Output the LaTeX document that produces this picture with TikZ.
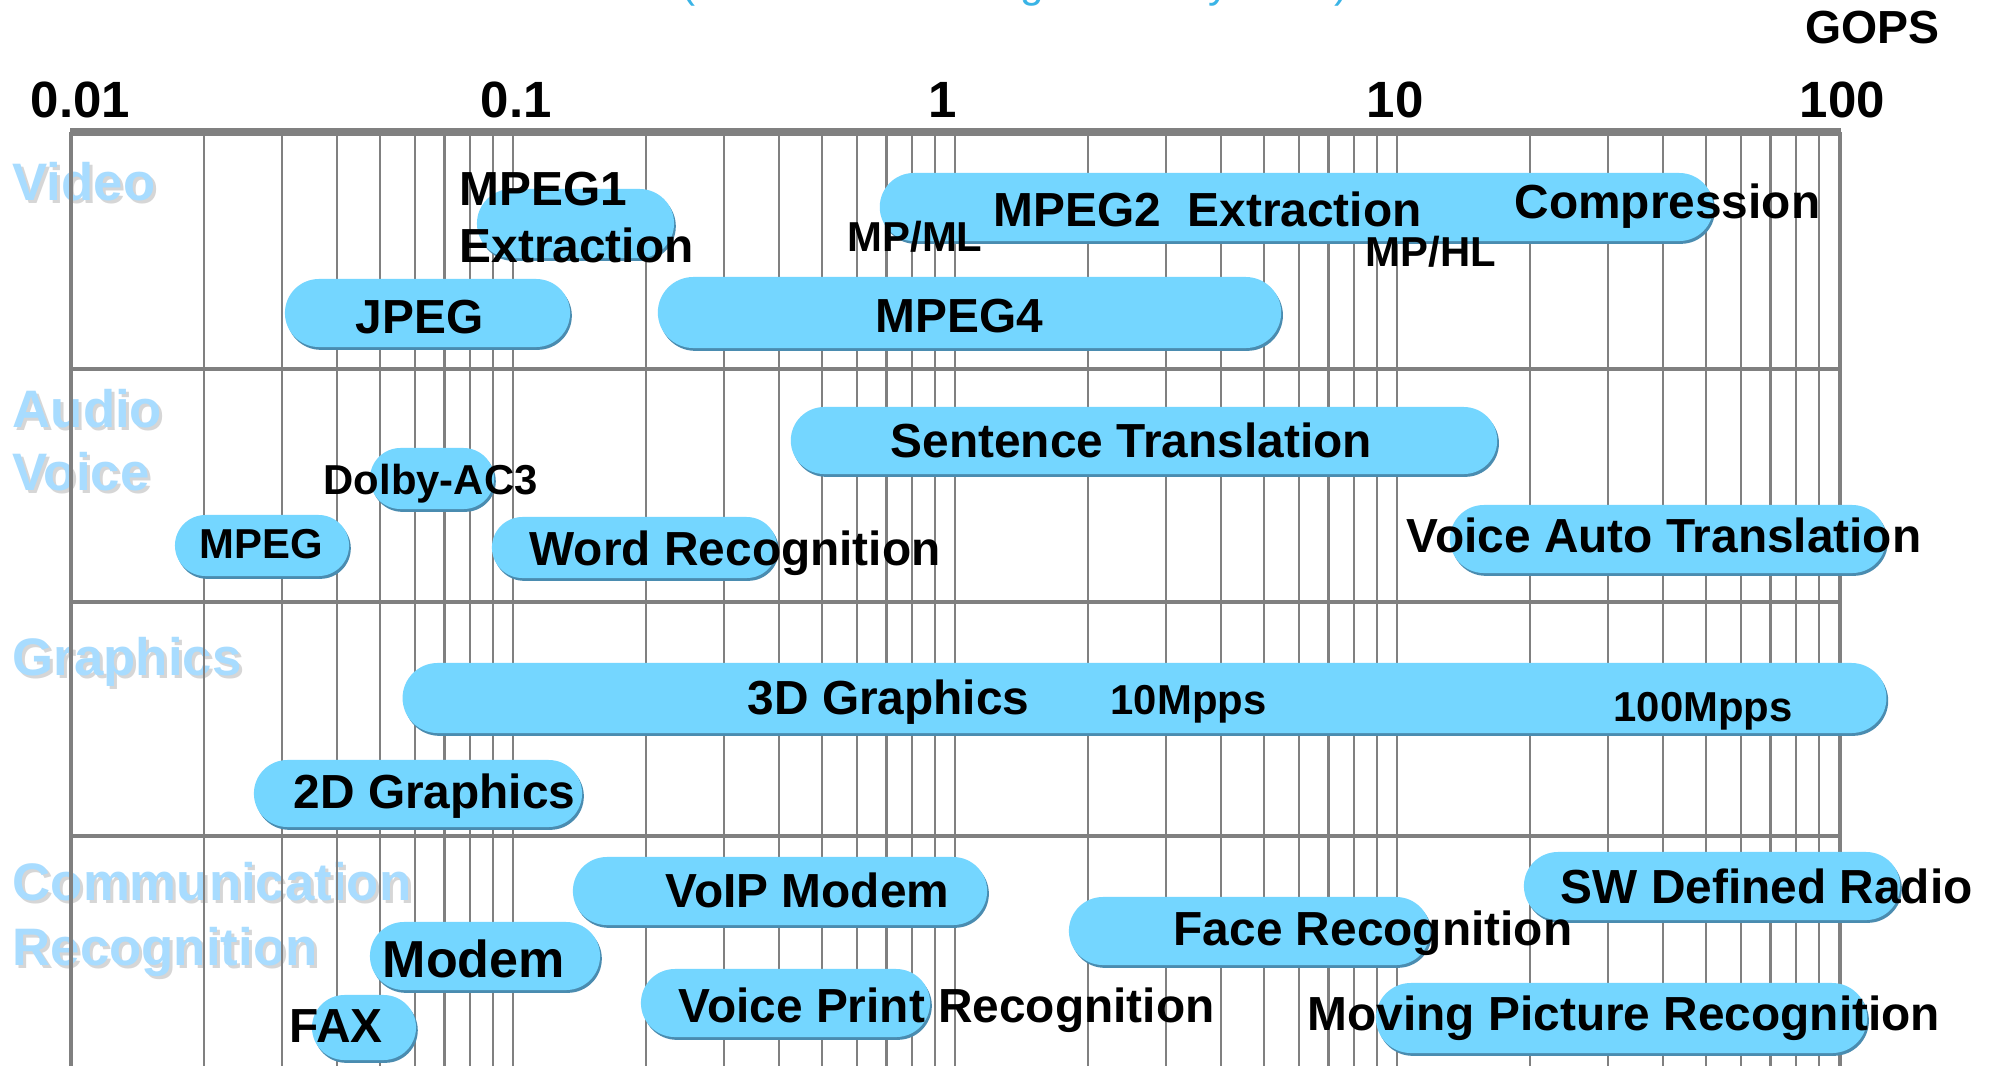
\documentclass[tikz,border=0pt]{standalone}
\usepackage{fontspec}
\setmainfont{Liberation Sans}
\usetikzlibrary{shapes.misc,shadows}
\definecolor{barfill}{HTML}{74D6FF}
\definecolor{barshade}{HTML}{4A8CB0}
\definecolor{rowblue}{HTML}{A8DCFF}
\definecolor{rowshade}{HTML}{D6D6D6}
\definecolor{gridgray}{HTML}{808080}
\definecolor{srcblue}{HTML}{3AB4E6}

\begin{document}
\begin{tikzpicture}[x=0.01cm, y=-0.01cm,
    gridline/.style={draw=gridgray, line width=0.6pt},
    band/.style={draw=gridgray, line width=1.15pt},
    appbar/.style={shape=rounded rectangle, fill=barfill, inner sep=0pt, drop shadow={shadow xshift=0.5pt, shadow yshift=-0.8pt, fill=barshade, opacity=1}},
    lbl/.style={font=\bfseries\fontsize{13.6}{16}\selectfont, inner sep=0pt, anchor=base west},
    sml/.style={lbl, font=\bfseries\fontsize{11.9}{14}\selectfont},
    tick/.style={lbl, font=\bfseries\fontsize{14.5}{17}\selectfont},
    row/.style={font=\bfseries\fontsize{15}{18}\selectfont, text=rowblue, inner sep=0pt, anchor=base west},
    rowsh/.style={row, text=rowshade}]
        \def\xo{71}
        \def\dec{442}
        \def\ytop{132}

        \fill[white] (0,0) rectangle (1993,1066);
        \useasboundingbox (0,0) rectangle (1993,1066);

        \node[font=\fontsize{12}{14}\selectfont, text=srcblue, inner sep=0pt, anchor=base] (source) at (1015,-3) {(source: SoC design Industry 2003)};

        % category names, with their grey drop
        \foreach \nm/\t/\yy in {video/Video/200, audio/Audio/427, voice/Voice/490, graph/Graphics/675, comm/Communication/900, recog/Recognition/965}{
            \node[rowsh] (\nm-s) at (15,\yy+3) {\t};
            \node[row] (\nm) at (12,\yy) {\t};
        }

        % log grid, 0.01 .. 100
        \foreach \d in {0,...,3}
            \foreach \m in {2,...,9}
                \draw[gridline] ({\xo+\dec*(\d+log10(\m))},\ytop) -- ++(0,934);
        \foreach \d in {1,2,3}
            \draw[gridline] ({\xo+\dec*\d},\ytop) -- ++(0,934);
        \draw[band] (\xo,\ytop) -- (\xo,1066);
        \draw[band] (1840,\ytop) -- (1840,1066);
        \foreach \yy in {369,602,836}
            \draw[band] (\xo,\yy) -- (1840,\yy);
        \draw[draw=gridgray, line width=2pt] (\xo-1,\ytop) -- (1841,\ytop);

        \node[tick] (t001) at (30,117) {0.01};
        \node[tick] (t01) at (480,117) {0.1};
        \node[tick] (t1) at (928,117) {1};
        \node[tick] (t10) at (1366,117) {10};
        \node[tick] (t100) at (1799,117) {100};
        \node[lbl, font=\bfseries\fontsize{13.2}{16}\selectfont] (gops) at (1805,43) {GOPS};

        % video
        \node[appbar, minimum width=1.97cm, minimum height=0.69cm] (mpegone) at (575.5,223.5) {};
        \node[appbar, minimum width=8.33cm, minimum height=0.68cm] (mpegtwo) at (1296.5,207) {};
        \node[appbar, minimum width=2.85cm, minimum height=0.68cm] (jpeg) at (427.5,313) {};
        \node[appbar, minimum width=6.23cm, minimum height=0.71cm] (mpegfour) at (969.5,312.5) {};
        \node[lbl] (mpegonel) at (459,205) {MPEG1};
        \node[lbl] (mpegonex) at (459,262) {Extraction};
        \node[lbl] (mpegtwol) at (993,226) {MPEG2\ \ Extraction};
        \node[lbl] (compr) at (1514,218) {Compression};
        \node[sml] (mpml) at (847,251) {MP/ML};
        \node[sml] (mphl) at (1365,266) {MP/HL};
        \node[lbl] (jpegl) at (355,333) {JPEG};
        \node[lbl] (mpegfourl) at (875,332) {MPEG4};

        % audio / voice
        \node[appbar, minimum width=7.06cm, minimum height=0.67cm] (sent) at (1144,440.5) {};
        \node[appbar, minimum width=1.24cm, minimum height=0.61cm] (dolby) at (432,478.5) {};
        \node[appbar, minimum width=1.74cm, minimum height=0.61cm] (mpega) at (262,545.5) {};
        \node[appbar, minimum width=2.85cm, minimum height=0.61cm] (word) at (634.5,547.5) {};
        \node[appbar, minimum width=4.36cm, minimum height=0.68cm] (vat) at (1668,539) {};
        \node[lbl] (sentl) at (890,457) {Sentence Translation};
        \node[sml] (dolbyl) at (323,494) {Dolby-AC3};
        \node[sml] (mpegal) at (199,558) {MPEG};
        \node[lbl] (wordl) at (529,565) {Word Recognition};
        \node[lbl] (vatl) at (1406,552) {Voice Auto Translation};

        % graphics
        \node[appbar, minimum width=14.83cm, minimum height=0.70cm] (threed) at (1144.5,698) {};
        \node[appbar, minimum width=3.28cm, minimum height=0.67cm] (twod) at (418,793.5) {};
        \node[lbl] (threedl) at (747,714) {3D Graphics};
        \node[sml] (tenmpps) at (1110,714) {10Mpps};
        \node[sml] (hundmpps) at (1613,721) {100Mpps};
        \node[lbl] (twodl) at (293,808) {2D Graphics};

        % communication / recognition
        \node[appbar, minimum width=4.14cm, minimum height=0.68cm] (voip) at (780,891) {};
        \node[appbar, minimum width=2.30cm, minimum height=0.68cm] (modem) at (485,956) {};
        \node[appbar, minimum width=1.04cm, minimum height=0.65cm] (fax) at (364,1027.5) {};
        \node[appbar, minimum width=2.89cm, minimum height=0.68cm] (vprint) at (785.5,1003) {};
        \node[appbar, minimum width=3.61cm, minimum height=0.68cm] (face) at (1249.5,931) {};
        \node[appbar, minimum width=3.76cm, minimum height=0.68cm] (swr) at (1712,886) {};
        \node[appbar, minimum width=4.91cm, minimum height=0.70cm] (mov) at (1621.5,1018) {};
        \node[lbl] (voipl) at (665,907) {VoIP Modem};
        \node[lbl, font=\bfseries\fontsize{14.8}{17}\selectfont] (modeml) at (382,977) {Modem};
        \node[lbl] (faxl) at (289,1042) {FAX};
        \node[lbl] (vprintl) at (678,1022) {Voice Print Recognition};
        \node[lbl] (facel) at (1173,945) {Face Recognition};
        \node[lbl] (swrl) at (1560,903) {SW Defined Radio};
        \node[lbl] (movl) at (1307,1030) {Moving Picture Recognition};
\end{tikzpicture}
\end{document}
